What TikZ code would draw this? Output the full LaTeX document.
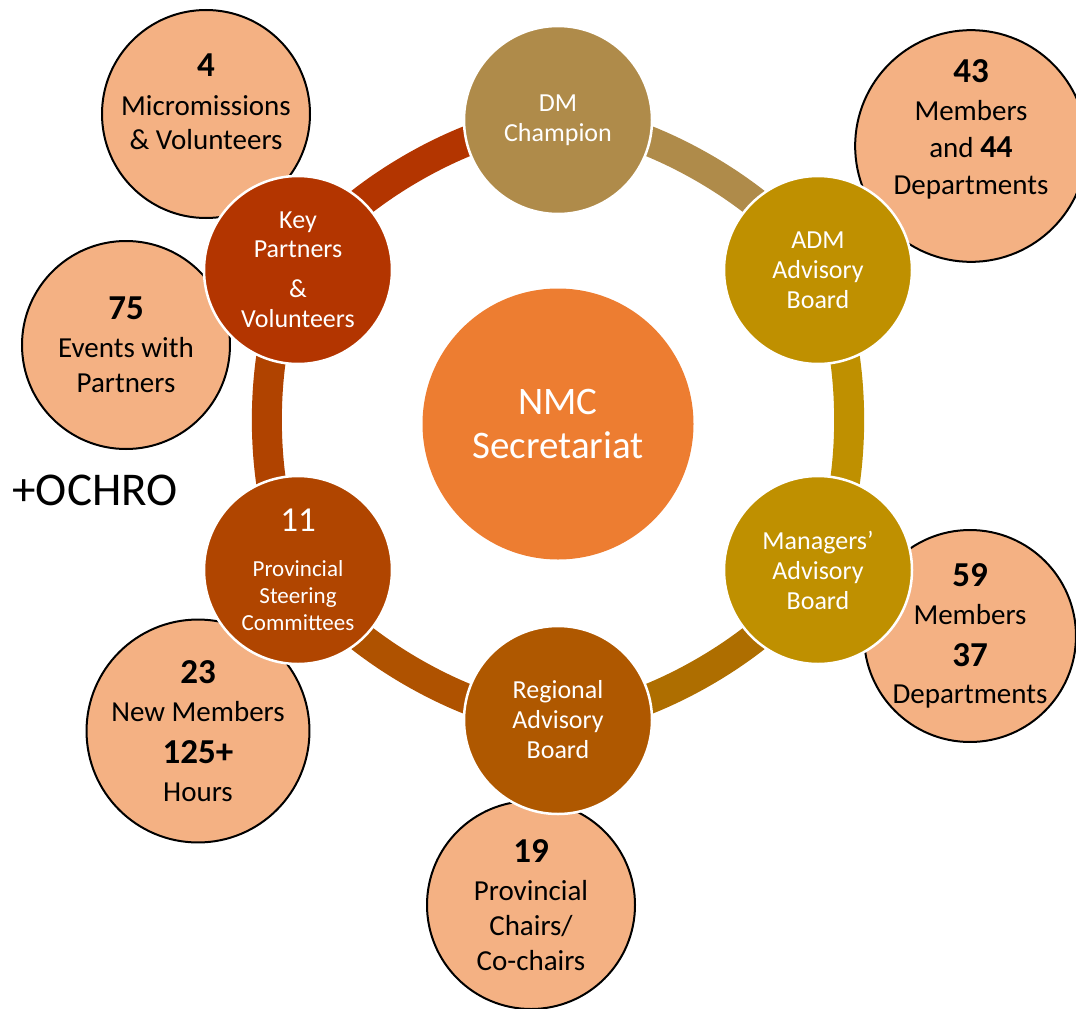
\documentclass[tikz,border=0pt]{standalone}
\usepackage{fontspec}
\setmainfont{Carlito}
\usepackage{tikz}
\usetikzlibrary{shapes,backgrounds}
\usepackage{xcolor}
\definecolor{nmcc}{HTML}{ED7D31}
\definecolor{statc}{HTML}{F4B183}
\definecolor{dmc}{HTML}{AF8B4A}
\definecolor{admc}{HTML}{BF9000}
\definecolor{mgrc}{HTML}{BF9000}
\definecolor{regc}{HTML}{AF5800}
\definecolor{provc}{HTML}{B04500}
\definecolor{keyc}{HTML}{B33500}
\definecolor{mgrseg}{HTML}{AE6E00}
\definecolor{regseg}{HTML}{AF5200}
\definecolor{provseg}{HTML}{B04300}
\newcommand{\bignum}[1]{{\bfseries\fontsize{35}{40}\selectfont #1}}

\begin{document}
\begin{tikzpicture}[x=1pt,y=1pt,
					hub/.style={circle, draw=white, line width=2.5pt, minimum size=188pt, inner sep=0pt, text=white, align=center, font=\fontsize{26}{30}\selectfont},
					stat/.style={circle, draw=black, line width=2pt, fill=statc, minimum size=208pt, inner sep=0pt, align=center, font=\fontsize{29}{36}\selectfont},
					ring/.style={line width=30pt, bend left=30, looseness=0.71}]
    \useasboundingbox (0,0) rectangle (1076,-1009);
    % Place nodes
    \node [stat] (micro) at (206,-114){\bignum{4}\\[3pt]Micromissions\\[-2pt]\& Volunteers\rule[-25pt]{0pt}{25pt}};
    \node [stat] (events) at (126,-345){\bignum{75}\\[2pt]Events with\\[-1pt]Partners};
    \node [stat] (members) at (971,-146){\bignum{43}\\[2pt]Members\\[1pt]and {\bfseries\fontsize{32}{36}\selectfont 44}\\[1pt]Departments\rule[-37pt]{0pt}{37pt}};
    \node [stat] (managers) at (970,-636){\bignum{59}\\[2pt]Members\\[6pt]\bignum{37}\\[1pt]Departments};
    \node [stat] (newmembers) at (198,-731){\bignum{23}\\[2pt]New Members\\[6pt]\bignum{125+}\\[2pt]Hours};
    \node [stat] (chairs) at (531,-905){\bignum{19}\\[2pt]Provincial\\[-1pt]Chairs/\\[-1pt]Co-chairs};
    \node [anchor=base west, font=\fontsize{47}{56}\selectfont] (ochro) at (9,-505){+OCHRO};

    \node [circle, fill=nmcc, minimum size=271pt, inner sep=0pt, text=white, align=center, font=\fontsize{39}{44}\selectfont] (nmc) at (558,-424){NMC\\Secretariat};

    \node [hub, fill=dmc] (dm) at (558,-120){DM\\Champion};
    \node [hub, fill=admc] (adm) at (818,-270){ADM\\Advisory\\Board};
    \node [hub, fill=mgrc] (mgr) at (818,-570){Managers’\\Advisory\\Board};
    \node [hub, fill=regc] (reg) at (558,-720){Regional\\Advisory\\Board};
    \node [hub, fill=provc, font=\fontsize{23}{27}\selectfont] (prov) at (298,-570){{\fontsize{35}{40}\selectfont 11}\\[18pt]Provincial\\Steering\\Committees};
    \node [hub, fill=keyc] (key) at (298,-270){Key\\[-1pt]Partners\\[10pt]\&\\Volunteers};

    % Draw edges
    \begin{pgfonlayer}{background}
    \draw[ring, keyc] (key.center) to (dm.center);
    \draw[ring, dmc] (dm.center) to (adm.center);
    \draw[ring, admc] (adm.center) to (mgr.center);
    \draw[ring, mgrseg] (mgr.center) to (reg.center);
    \draw[ring, regseg] (reg.center) to (prov.center);
    \draw[ring, provseg] (prov.center) to (key.center);
    \end{pgfonlayer}
\end{tikzpicture}
\end{document}
